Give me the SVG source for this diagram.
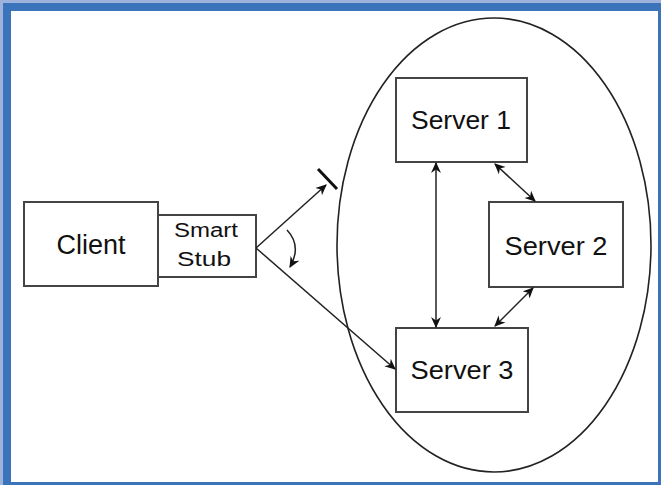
<svg xmlns="http://www.w3.org/2000/svg" width="661" height="485" viewBox="0 0 661 485">
<defs>
<style>
.box{fill:#fff;stroke:#444;stroke-width:2}
.lbl{font-family:"Liberation Sans",Arial,sans-serif;fill:#111;text-anchor:middle}
.ln{stroke:#222;stroke-width:1.5;fill:none}
</style>
<marker id="ah" viewBox="0 0 10 10" refX="9" refY="5" markerWidth="11" markerHeight="11" markerUnits="userSpaceOnUse" orient="auto-start-reverse">
<path d="M0,0.5 L10,5 L0,9.5 L3,5 Z" fill="#111"/>
</marker>
</defs>
<rect x="0" y="0" width="661" height="485" fill="#9db3dc"/>
<rect x="3" y="3" width="658" height="482" fill="#3b74bb"/>
<rect x="11" y="11" width="647" height="471" fill="#fff"/>
<g id="cluster">
<ellipse cx="494" cy="245" rx="157" ry="227" fill="none" stroke="#222" stroke-width="1.6"/>
</g>
<g id="client">
<rect class="box" x="24" y="202" width="134" height="84"/>
<text class="lbl" x="91" y="254" font-size="27" textLength="69" lengthAdjust="spacingAndGlyphs">Client</text>
</g>
<g id="stub">
<rect class="box" x="158" y="215" width="98" height="62"/>
<text class="lbl" x="206" y="237" font-size="20" textLength="64" lengthAdjust="spacingAndGlyphs">Smart</text>
<text class="lbl" x="204" y="266" font-size="20" textLength="54" lengthAdjust="spacingAndGlyphs">Stub</text>
</g>
<g id="server1">
<rect class="box" x="396" y="78" width="131" height="84"/>
<text class="lbl" x="461" y="129" font-size="25" textLength="100" lengthAdjust="spacingAndGlyphs">Server 1</text>
</g>
<g id="server2">
<rect class="box" x="489" y="202" width="134" height="85"/>
<text class="lbl" x="556" y="255" font-size="25" textLength="103" lengthAdjust="spacingAndGlyphs">Server 2</text>
</g>
<g id="server3">
<rect class="box" x="396" y="328" width="132" height="84"/>
<text class="lbl" x="462" y="379" font-size="25" textLength="103" lengthAdjust="spacingAndGlyphs">Server 3</text>
</g>
<g id="connectors">
<line class="ln" x1="256" y1="248" x2="326" y2="185" marker-end="url(#ah)"/>
<line x1="318" y1="169" x2="337" y2="189" stroke="#111" stroke-width="3"/>
<line class="ln" x1="256" y1="248" x2="395" y2="369" marker-end="url(#ah)"/>
<path class="ln" d="M287,230 Q302,246 290,267" marker-end="url(#ah)"/>
<line class="ln" x1="436" y1="163" x2="436" y2="327" marker-start="url(#ah)" marker-end="url(#ah)"/>
<line class="ln" x1="495" y1="164" x2="535" y2="201" marker-start="url(#ah)" marker-end="url(#ah)"/>
<line class="ln" x1="533" y1="288" x2="495" y2="326" marker-start="url(#ah)" marker-end="url(#ah)"/>
</g>
</svg>
